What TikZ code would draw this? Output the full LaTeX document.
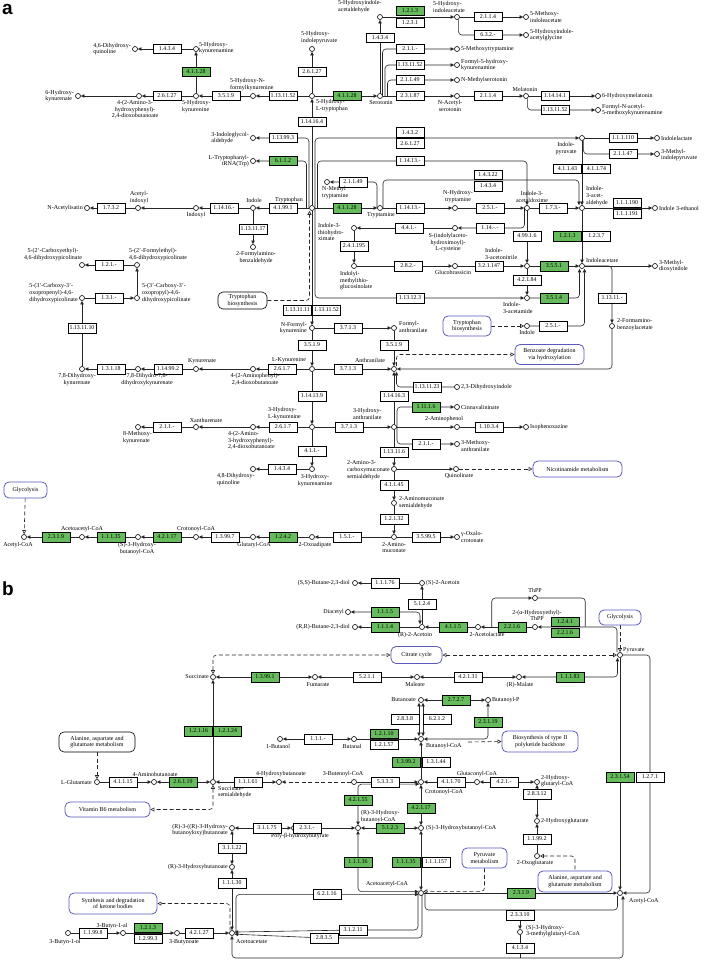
\documentclass[tikz,border=0pt]{standalone}
\usepackage{fontspec}
\setmainfont{Liberation Serif}
\setsansfont{Liberation Sans}
\usetikzlibrary{arrows.meta,backgrounds}
\definecolor{keggreen}{RGB}{102,187,92}
\definecolor{mapblue}{RGB}{90,90,190}

\begin{document}
\begin{tikzpicture}[x=1pt,y=-1pt,
    >={Triangle[length=3.6pt,width=3.4pt]},
    ot/.tip={Triangle[open,fill=white,length=4pt,width=4pt]},
    cpd/.style={circle,draw,fill=white,line width=0.6pt,inner sep=0pt,minimum size=5pt},
    enz/.style={draw,fill=white,line width=0.5pt,inner sep=0pt,minimum width=28pt,minimum height=9.5pt,font=\fontsize{5.9}{6}\selectfont},
    genz/.style={enz,fill=keggreen},
    lbl/.style={inner sep=0pt,align=left,font=\fontsize{6}{6.8}\selectfont},
    mapk/.style={draw,rounded corners=5pt,fill=white,line width=0.6pt,inner sep=0pt,align=center,font=\fontsize{6}{6.8}\selectfont},
    mapb/.style={mapk,draw=mapblue,line width=0.8pt},
    rx/.style={line width=0.6pt,draw=black!85},
    dl/.style={rx,dash pattern=on 4pt off 2.5pt},
    rc/.style={rounded corners=3.5pt},
    letter/.style={inner sep=0pt,anchor=base west,font=\sffamily\bfseries\fontsize{19}{19}\selectfont}]
    \useasboundingbox (0,0) rectangle (708,960);

    % ================= Panel a =================
    \node[letter] (pa) at (2,15) {a};
    % 5-hydroxy branch
    \node[cpd] (dhq46) at (135,49) {};
    \node[cpd] (hkna) at (196,49) {};
    \node[cpd] (hkyn) at (196,96) {};
    \node[cpd] (ahpdb) at (139,96) {};
    \node[cpd] (hkyna6) at (78,96) {};
    \node[cpd] (hnfk) at (253,96) {};
    \node[cpd] (htp) at (312,96) {};
    \node[cpd] (hipyr) at (312,49) {};
    \node[cpd] (ser) at (380,96) {};
    \node[cpd] (hial) at (380,17) {};
    \node[cpd] (hiaa) at (457,17) {};
    \node[cpd] (mia) at (526,17) {};
    \node[cpd] (hiag) at (526,35) {};
    \node[cpd] (mtr) at (457,49) {};
    \node[cpd] (fhk) at (457,65) {};
    \node[cpd] (nms) at (457,80) {};
    \node[cpd] (nas) at (457,96) {};
    \node[cpd] (mel) at (526,96) {};
    \node[cpd] (hmel) at (598,96) {};
    \node[cpd] (fam) at (598,110) {};
    \node[enz] (e1) at (167,49) {1.4.3.4};
    \node[genz] (e2) at (196,72) {4.1.1.28};
    \node[enz] (e3) at (167,96) {2.6.1.27};
    \node[enz] (e4) at (226,96) {3.5.1.9};
    \node[enz] (e5) at (283,96) {1.13.11.52};
    \node[enz] (e6) at (312,72) {2.6.1.27};
    \node[genz] (e7) at (347,96) {4.1.1.28};
    \node[enz] (e8) at (312,122) {1.14.16.4};
    \node[enz] (e9) at (380,38) {1.4.3.4};
    \node[genz] (e10) at (410,11) {1.2.1.3};
    \node[enz] (e11) at (410,23) {1.2.3.1};
    \node[enz] (e12) at (488,17) {2.1.1.4};
    \node[enz] (e13) at (488,35) {6.3.2.-};
    \node[enz] (e14) at (410,49) {2.1.1.-};
    \node[enz] (e15) at (410,65) {1.13.11.52};
    \node[enz] (e16) at (410,80) {2.1.1.49};
    \node[enz] (e17) at (410,96) {2.3.1.87};
    \node[enz] (e18) at (488,96) {2.1.1.4};
    \node[enz] (e19) at (555,96) {1.14.14.1};
    \node[enz] (e20) at (555,110) {1.13.11.52};
    \node[lbl,anchor=east] (Ldhq46) at (131,49) {4,6-Dihydroxy-\\quinoline};
    \node[lbl,anchor=west] (Lhkna) at (199,48) {5-Hydroxy-\\kynurenamine};
    \node[lbl,anchor=north west] (Lhkyn) at (182,100) {5-Hydroxy-\\kynurenine};
    \node[lbl,anchor=north,align=center] (Lahpdb) at (135,100) {4-(2-Amino-3-\\hydroxyphenyl)-\\2,4-dioxobutanoate};
    \node[lbl,anchor=east] (Lhkyna6) at (74,96) {6-Hydroxy-\\kynurenate};
    \node[lbl,anchor=south west] (Lhipyr) at (301,44) {5-Hydroxy-\\indolepyruvate};
    \node[lbl,anchor=south west] (Lhnfk) at (230,91) {5-Hydroxy-N-\\formylkynurenine};
    \node[lbl,anchor=north west] (Lhtp) at (316,99) {5-Hydroxy-\\L-tryptophan};
    \node[lbl,anchor=north] (Lser) at (381,100) {Serotonin};
    \node[lbl,anchor=south west] (Lhial) at (338,13) {5-Hydroxyindole-\\acetaldehyde};
    \node[lbl,anchor=south west] (Lhiaa) at (433,13) {5-Hydroxy-\\indoleacetate};
    \node[lbl,anchor=west] (Lmia) at (530,17) {5-Methoxy-\\indoleacetate};
    \node[lbl,anchor=west] (Lhiag) at (530,35) {5-Hydroxyindole-\\acetylglycine};
    \node[lbl,anchor=west] (Lmtr) at (461,49) {5-Methoxytryptamine};
    \node[lbl,anchor=west] (Lfhk) at (461,65) {Formyl-5-hydroxy-\\kynurenamine};
    \node[lbl,anchor=west] (Lnms) at (461,80) {N-Methylserotonin};
    \node[lbl,anchor=north,align=center] (Lnas) at (450,100) {N-Acetyl-\\serotonin};
    \node[lbl,anchor=south] (Lmel) at (525,92) {Melatonin};
    \node[lbl,anchor=west] (Lhmel) at (602,96) {6-Hydroxymelatonin};
    \node[lbl,anchor=west] (Lfam) at (602,110) {Formyl-N-acetyl-\\5-methoxykynurenamine};

    % tryptophan hub and indole branch
    \node[cpd] (igal) at (253,138) {};
    \node[cpd] (ttrna) at (253,161) {};
    \node[cpd] (ipyr) at (582,138) {};
    \node[cpd] (ilac) at (657,138) {};
    \node[cpd] (mipyr) at (657,154) {};
    \node[cpd] (nmt) at (327,182) {};
    \node[cpd] (trp) at (312,208) {};
    \node[cpd] (ind) at (253,208) {};
    \node[cpd] (indx) at (196,208) {};
    \node[cpd] (aind) at (138,208) {};
    \node[cpd] (nai) at (87,208) {};
    \node[cpd] (fab) at (253,247) {};
    \node[cpd] (tra) at (380,208) {};
    \node[cpd] (nht) at (455,208) {};
    \node[cpd] (iaox) at (527,208) {};
    \node[cpd] (iaal) at (582,208) {};
    \node[cpd] (ieth) at (655,208) {};
    \node[cpd] (sic) at (455,228) {};
    \node[cpd] (ith) at (354,228) {};
    \node[cpd] (img) at (354,266) {};
    \node[cpd] (gbr) at (455,266) {};
    \node[cpd] (ian) at (527,266) {};
    \node[cpd] (iac) at (582,266) {};
    \node[cpd] (mdi) at (655,266) {};
    \node[cpd] (iam) at (527,298) {};
    \node[cpd] (indb) at (527,326) {};
    \node[cpd] (fba) at (612,326) {};
    \node[enz] (e21) at (283,138) {1.13.99.3};
    \node[genz] (e22) at (283,161) {6.1.1.2};
    \node[enz] (e23) at (410,132.5) {1.4.3.2};
    \node[enz] (e24) at (410,143.5) {2.6.1.27};
    \node[enz] (e25) at (410,161) {1.14.13.-};
    \node[enz] (e26) at (623,138) {1.1.1.110};
    \node[enz] (e27) at (623,154) {2.1.1.47};
    \node[enz] (e28) at (567.5,169) {4.1.1.43};
    \node[enz] (e29) at (596.5,169) {4.1.1.74};
    \node[enz] (e30) at (488,175) {1.4.3.22};
    \node[enz] (e31) at (488,186) {1.4.3.4};
    \node[enz] (e32) at (353,182) {2.1.1.49};
    \node[enz] (e33) at (283,208) {4.1.99.1};
    \node[genz] (e34) at (347,208) {4.1.1.28};
    \node[enz] (e35) at (410,208) {1.14.13.-};
    \node[enz] (e36) at (490,208) {2.5.1.-};
    \node[enz] (e37) at (553,208) {1.7.3.-};
    \node[enz] (e38) at (627,202.5) {1.1.1.190};
    \node[enz] (e39) at (627,213.5) {1.1.1.191};
    \node[enz] (e40) at (224,208) {1.14.16.-};
    \node[enz] (e41) at (111,208) {1.7.3.2};
    \node[enz] (e42) at (253,229) {1.13.11.17};
    \node[enz] (e43) at (409,228) {4.4.1.-};
    \node[enz] (e44) at (490,228) {1.14.-.-};
    \node[enz] (e45) at (354,246) {2.4.1.195};
    \node[enz] (e46) at (527,236) {4.99.1.6};
    \node[genz] (e47) at (567.5,236) {1.2.1.3};
    \node[enz] (e48) at (596.5,236) {1.2.3.7};
    \node[enz] (e49) at (408,266) {2.8.2.-};
    \node[enz] (e50) at (489,266) {3.2.1.147};
    \node[genz] (e51) at (554,266) {3.5.5.1};
    \node[enz] (e52) at (527,280) {4.2.1.84};
    \node[genz] (e53) at (554,298) {3.5.1.4};
    \node[enz] (e54) at (410,298) {1.13.12.3};
    \node[enz] (e55) at (612,298) {1.13.11.-};
    \node[enz] (e56) at (553,326) {2.5.1.-};
    \node[lbl,anchor=east] (Ligal) at (249,138) {3-Indoleglycol-\\aldehyde};
    \node[lbl,anchor=east,align=right] (Lttrna) at (249,161) {L-Tryptophanyl-\\tRNA(Trp)};
    \node[lbl,anchor=north,align=center] (Lipyr) at (566,142) {Indole-\\pyruvate};
    \node[lbl,anchor=west] (Lilac) at (661,138) {Indolelactate};
    \node[lbl,anchor=west] (Lmipyr) at (661,155) {3-Methyl-\\indolepyruvate};
    \node[lbl,anchor=north west] (Lnmt) at (322,186) {N-Methyl\\tryptamine};
    \node[lbl,anchor=south] (Ltrp) at (289,203) {Tryptophan};
    \node[lbl,anchor=south] (Lind) at (254,203) {Indole};
    \node[lbl,anchor=north] (Lindx) at (196,212) {Indoxyl};
    \node[lbl,anchor=south,align=center] (Laind) at (139,204) {Acetyl-\\indoxyl};
    \node[lbl,anchor=east] (Lnai) at (83,208) {N-Acetylisatin};
    \node[lbl,anchor=north,align=center] (Lfab) at (256,251) {2-Formylamino-\\benzaldehyde};
    \node[lbl,anchor=north] (Ltra) at (381,212) {Tryptamine};
    \node[lbl,anchor=south,align=center] (Lnht) at (458,203) {N-Hydroxy-\\tryptamine};
    \node[lbl,anchor=south,align=center] (Liaox) at (532,203) {Indole-3-\\acetaldoxime};
    \node[lbl,anchor=south west] (Liaal) at (586,206) {Indole-\\3-acet-\\aldehyde};
    \node[lbl,anchor=west] (Lieth) at (659,208) {Indole 3-ethanol};
    \node[lbl,anchor=north,align=center] (Lsic) at (448,233) {S-(indolylaceto-\\hydroximoyl)-\\L-cysteine};
    \node[lbl,anchor=north west] (Lith) at (318,223) {Indole-3-\\thiohydro-\\ximate};
    \node[lbl,anchor=north west] (Limg) at (340,271) {Indolyl-\\methylthio-\\glucosinolate};
    \node[lbl,anchor=north] (Lgbr) at (453,270) {Glucobrassicin};
    \node[lbl,anchor=south west] (Lian) at (485,260) {Indole-\\3-acetonitrile};
    \node[lbl,anchor=south west] (Liac) at (586,263) {Indoleacetate};
    \node[lbl,anchor=west] (Lmdi) at (659,266) {3-Methyl-\\dioxyindole};
    \node[lbl,anchor=north west] (Liam) at (503,302) {Indole-\\3-acetamide};
    \node[lbl,anchor=north] (Lindb) at (527,330) {Indole};
    \node[lbl,anchor=west] (Lfba) at (617,325) {2-Formamino-\\benzoylacetate};
    \node[mapk,minimum width=49pt,minimum height=17pt] (mtrp1) at (242.5,300.5) {Tryptophan\\biosynthesis};
    \node[mapb,minimum width=48pt,minimum height=20pt] (mtrp2) at (467,326) {Tryptophan\\biosynthesis};
    \node[mapb,minimum width=69pt,minimum height=20pt] (mbenz) at (549.5,354.5) {Benzoate degradation\\via hydroxylation};

    % kynurenine branch
    \node[cpd] (cep) at (82,265) {};
    \node[cpd] (fep) at (137,265) {};
    \node[cpd] (cpp) at (82,298) {};
    \node[cpd] (cop) at (137,298) {};
    \node[cpd] (nfk) at (312,328) {};
    \node[cpd] (fan) at (394,328) {};
    \node[cpd] (lkyn) at (312,369) {};
    \node[cpd] (ant) at (394,369) {};
    \node[cpd] (apdb) at (253,369) {};
    \node[cpd] (kyna) at (196,369) {};
    \node[cpd] (ddk) at (138,369) {};
    \node[cpd] (dhk78) at (82,369) {};
    \node[cpd] (hlkyn) at (312,427) {};
    \node[cpd] (ahpdb2) at (253,427) {};
    \node[cpd] (xan) at (196,427) {};
    \node[cpd] (mky) at (138,427) {};
    \node[cpd] (hkna3) at (312,469) {};
    \node[cpd] (dhq48) at (253,469) {};
    \node[cpd] (haa) at (394,427) {};
    \node[cpd] (dhi) at (457,387) {};
    \node[cpd] (cin) at (457,407) {};
    \node[cpd] (amp) at (457,427) {};
    \node[cpd] (ipx) at (526,427) {};
    \node[cpd] (man) at (457,444) {};
    \node[cpd] (acms) at (394,469) {};
    \node[cpd] (quin) at (456,469) {};
    \node[cpd] (ams) at (394,503) {};
    \node[cpd] (amu) at (394,537) {};
    \node[cpd] (oxc) at (457,537) {};
    \node[cpd] (oad) at (312,537) {};
    \node[cpd] (gcoa) at (253,537) {};
    \node[cpd] (ccoa) at (196,537) {};
    \node[cpd] (hbcoa) at (138,537) {};
    \node[cpd] (aacoa) at (82,537) {};
    \node[cpd] (acoa) at (24,537) {};
    \node[enz] (e57) at (109,265) {1.2.1.-};
    \node[enz] (e58) at (109,298) {1.3.1.-};
    \node[enz] (e59) at (82,328) {1.13.11.10};
    \node[enz] (e60) at (111,369) {1.3.1.18};
    \node[enz] (e61) at (168,369) {1.14.99.2};
    \node[enz] (e62) at (297.5,310) {1.13.11.11};
    \node[enz] (e63) at (326.5,310) {1.13.11.52};
    \node[enz] (e64) at (348,328) {3.7.1.3};
    \node[enz] (e65) at (312,345) {3.5.1.9};
    \node[enz] (e66) at (394,345) {3.5.1.9};
    \node[enz] (e67) at (282,369) {2.6.1.7};
    \node[enz] (e68) at (348,369) {3.7.1.3};
    \node[enz] (e69) at (312,396) {1.14.13.9};
    \node[enz] (e70) at (394,396) {1.14.16.3};
    \node[enz] (e71) at (427,387) {1.13.11.23};
    \node[genz] (e72) at (426,407) {1.11.1.6};
    \node[enz] (e73) at (283,427) {2.6.1.7};
    \node[enz] (e74) at (349,427) {3.7.1.3};
    \node[enz] (e75) at (489,427) {1.10.3.4};
    \node[enz] (e76) at (426,444) {2.1.1.-};
    \node[enz] (e77) at (167,427) {2.1.1.-};
    \node[enz] (e78) at (312,451) {4.1.1.-};
    \node[enz] (e79) at (394,452) {1.13.11.6};
    \node[enz] (e80) at (282,469) {1.4.3.4};
    \node[enz] (e81) at (394,485) {4.1.1.45};
    \node[enz] (e82) at (394,519) {1.2.1.32};
    \node[enz] (e83) at (426,537) {3.5.99.5};
    \node[enz] (e84) at (347,537) {1.5.1.-};
    \node[genz] (e85) at (283,537) {1.2.4.2};
    \node[enz] (e86) at (225,537) {1.3.99.7};
    \node[genz] (e87) at (167,537) {4.2.1.17};
    \node[genz] (e88) at (111,537) {1.1.1.35};
    \node[genz] (e89) at (56,537) {2.3.1.9};
    \node[lbl,anchor=south,align=center] (Lcep) at (53,261) {5-(2'-Carboxyethyl)-\\4,6-dihydroxypicolinate};
    \node[lbl,anchor=south west] (Lfep) at (129,261) {5-(2'-Formylethyl)-\\4,6-dihydroxypicolinate};
    \node[lbl,anchor=east] (Lcpp) at (78,293) {5-(3'-Carboxy-3'-\\oxopropenyl)-4,6-\\dihydroxypicolinate};
    \node[lbl,anchor=west] (Lcop) at (142,293) {5-(3'-Carboxy-3'-\\oxopropyl)-4,6-\\dihydroxypicolinate};
    \node[lbl,anchor=north,align=center] (Ldhk78) at (77,373) {7,8-Dihydroxy-\\kynurenate};
    \node[lbl,anchor=north,align=center] (Lddk) at (147,373) {7,8-Dihydro-7,8-\\dihydroxykynurenate};
    \node[lbl,anchor=south] (Lkyna) at (202,364) {Kynurenate};
    \node[lbl,anchor=north,align=center] (Lapdb) at (255,373) {4-(2-Aminophenyl)-\\2,4-dioxobutanoate};
    \node[lbl,anchor=south] (Llkyn) at (289,363) {L-Kynurenine};
    \node[lbl,anchor=east,align=right] (Lnfk) at (307,328) {N-Formyl-\\kynurenine};
    \node[lbl,anchor=west] (Lfan) at (399,327) {Formyl-\\anthranilate};
    \node[lbl,anchor=south] (Lant) at (370,363) {Anthranilate};
    \node[lbl,anchor=south west] (Lhlkyn) at (268,420) {3-Hydroxy-\\L-kynurenine};
    \node[lbl,anchor=north west] (Lahpdb2) at (228,431) {4-(2-Amino-\\3-hydroxyphenyl)-\\2,4-dioxobutanoate};
    \node[lbl,anchor=south] (Lxan) at (206,423) {Xanthurenate};
    \node[lbl,anchor=north west] (Lmky) at (123,431) {8-Methoxy-\\kynurenate};
    \node[lbl,anchor=north,align=center] (Lhkna3) at (315,474) {3-Hydroxy-\\kynurenamine};
    \node[lbl,anchor=north west] (Ldhq48) at (217,473) {4,8-Dihydroxy-\\quinoline};
    \node[lbl,anchor=south west] (Lhaa) at (353,420) {3-Hydroxy-\\anthranilate};
    \node[lbl,anchor=west] (Ldhi) at (461,387) {2,3-Dihydroxyindole};
    \node[lbl,anchor=west] (Lcin) at (461,407) {Cinnavalininate};
    \node[lbl,anchor=south] (Lamp) at (444,422) {2-Aminophenol};
    \node[lbl,anchor=west] (Lipx) at (530,427) {Isophenoxazine};
    \node[lbl,anchor=west] (Lman) at (461,446) {3-Methoxy-\\anthranilate};
    \node[lbl,anchor=east] (Lacms) at (390,470) {2-Amino-3-\\carboxymuconate\\semialdehyde};
    \node[lbl,anchor=north] (Lquin) at (459,473) {Quinolinate};
    \node[lbl,anchor=west] (Lams) at (399,503) {2-Aminomuconate\\semialdehyde};
    \node[lbl,anchor=north,align=center] (Lamu) at (394,542) {2-Amino-\\muconate};
    \node[lbl,anchor=west] (Loxc) at (461,537) {γ-Oxalo-\\crotonate};
    \node[lbl,anchor=north] (Load) at (315,542) {2-Oxoadipate};
    \node[lbl,anchor=north] (Lgcoa) at (254,542) {Glutaryl-CoA};
    \node[lbl,anchor=south] (Lccoa) at (196,532) {Crotonoyl-CoA};
    \node[lbl,anchor=north,align=center] (Lhbcoa) at (137,542) {(S)-3-Hydroxy-\\butanoyl-CoA};
    \node[lbl,anchor=south] (Laacoa) at (82,532) {Acetoacetyl-CoA};
    \node[lbl,anchor=north] (Lacoa) at (18,542) {Acetyl-CoA};
    \node[mapb,minimum width=43pt,minimum height=16pt] (mglya) at (25.5,490) {Glycolysis};
    \node[mapb,minimum width=89pt,minimum height=16pt] (mnic) at (577.5,469) {Nicotinamide metabolism};

    % ================= Panel b =================
    \node[letter] (pb) at (2,595) {b};
    \node[cpd] (ssbd) at (355,583) {};
    \node[cpd] (sac) at (422,583) {};
    \node[cpd] (dac) at (348,612) {};
    \node[cpd] (rrbd) at (355,627) {};
    \node[cpd] (rac) at (422,627) {};
    \node[cpd] (alac) at (478,627) {};
    \node[cpd] (hetpp) at (535,627) {};
    \node[cpd] (thpp) at (535,598) {};
    \node[cpd] (pyr) at (620,655) {};
    \node[cpd] (suc) at (213,677) {};
    \node[cpd] (fum) at (315,677) {};
    \node[cpd] (mal) at (417,677) {};
    \node[cpd] (rmal) at (519,677) {};
    \node[cpd] (but) at (421,700) {};
    \node[cpd] (butp) at (488,700) {};
    \node[cpd] (bcoa) at (421,739) {};
    \node[cpd] (bal) at (354,739) {};
    \node[cpd] (bol) at (280,739) {};
    \node[cpd] (glu) at (97,782) {};
    \node[cpd] (gaba) at (154,782) {};
    \node[cpd] (ssa) at (213,782) {};
    \node[cpd] (ghb) at (279,782) {};
    \node[cpd] (bucoa) at (354,782) {};
    \node[cpd] (ccoab) at (421,782) {};
    \node[cpd] (gccoa) at (477,782) {};
    \node[cpd] (hgcoa) at (537,782) {};
    \node[cpd] (hglt) at (537,821) {};
    \node[cpd] (oglt) at (537,856) {};
    \node[cpd] (rrhb) at (232,828) {};
    \node[cpd] (phb) at (294,828) {};
    \node[cpd] (rhbcoa) at (358,828) {};
    \node[cpd] (shbcoa) at (421,828) {};
    \node[cpd] (rhb) at (232,867) {};
    \node[cpd] (aacoab) at (421,893) {};
    \node[cpd] (acoab) at (620,893) {};
    \node[cpd] (hmgcoa) at (520,932) {};
    \node[cpd] (aca) at (232,933) {};
    \node[cpd] (byol) at (68,933) {};
    \node[cpd] (byal) at (123,933) {};
    \node[cpd] (byn) at (177,933) {};
    \coordinate (j958) at (520,958);
    \coordinate (bcoaout) at (468,742);
    \node[enz] (f1) at (385,583) {1.1.1.76};
    \node[enz] (f2) at (422,604) {5.1.2.4};
    \node[genz] (f3) at (385,612) {1.1.1.5};
    \node[genz] (f4) at (385,627) {1.1.1.4};
    \node[genz] (f5) at (453,627) {4.1.1.5};
    \node[genz] (f6) at (512,627) {2.2.1.6};
    \node[genz] (f7) at (565,621.5) {1.2.4.1};
    \node[genz] (f8) at (565,632.5) {2.2.1.6};
    \node[genz] (f9) at (265,677) {1.3.99.1};
    \node[enz] (f10) at (367,677) {5.2.1.1};
    \node[enz] (f11) at (468,677) {4.2.1.31};
    \node[genz] (f12) at (570,677) {1.1.1.83};
    \node[genz] (f13) at (456,700) {2.7.2.7};
    \node[genz] (f14) at (488,722) {2.3.1.19};
    \node[enz] (f15) at (405,719) {2.8.3.8};
    \node[enz] (f16) at (437,719) {6.2.1.2};
    \node[genz] (f17) at (384,733.5) {1.2.1.10};
    \node[enz] (f18) at (384,744.5) {1.2.1.57};
    \node[enz] (f19) at (318,739) {1.1.1.-};
    \node[genz] (f20) at (198.5,731) {1.2.1.16};
    \node[genz] (f21) at (227.5,731) {1.2.1.24};
    \node[genz] (f22) at (406,762) {1.3.99.2};
    \node[enz] (f23) at (436,762) {1.3.1.44};
    \node[enz] (f24) at (123,782) {4.1.1.15};
    \node[genz] (f25) at (183,782) {2.6.1.19};
    \node[enz] (f26) at (248,782) {1.1.1.61};
    \node[enz] (f27) at (385,782) {5.3.3.3};
    \node[enz] (f28) at (451,782) {4.1.1.70};
    \node[enz] (f29) at (504,782) {4.2.1.-};
    \node[enz] (f30) at (537,794) {2.8.3.12};
    \node[enz] (f31) at (537,839) {1.1.99.2};
    \node[genz] (f32) at (620,777) {2.3.1.54};
    \node[enz] (f33) at (650,777) {1.2.7.1};
    \node[genz] (f34) at (358,800) {4.2.1.55};
    \node[genz] (f35) at (421,808) {4.2.1.17};
    \node[enz] (f36) at (267,828) {3.1.1.75};
    \node[enz] (f37) at (307,828) {2.3.1.-};
    \node[genz] (f38) at (390,828) {5.1.2.3};
    \node[enz] (f39) at (232,848) {3.1.1.22};
    \node[enz] (f40) at (232,883) {1.1.1.30};
    \node[genz] (f41) at (358,862) {1.1.1.36};
    \node[genz] (f42) at (406,862) {1.1.1.35};
    \node[enz] (f43) at (436,862) {1.1.1.157};
    \node[enz] (f44) at (327,894) {6.2.1.16};
    \node[enz] (f45) at (353,930) {3.1.2.11};
    \node[enz] (f46) at (324,938) {2.8.3.5};
    \node[genz] (f47) at (521,893) {2.3.1.9};
    \node[enz] (f48) at (520,915) {2.3.3.10};
    \node[enz] (f49) at (520,948) {4.1.3.4};
    \node[enz] (f50) at (93,933) {1.1.99.8};
    \node[genz] (f51) at (148,927.5) {1.2.1.3};
    \node[enz] (f52) at (148,938.5) {1.2.99.3};
    \node[enz] (f53) at (199,933) {4.2.1.27};
    \node[lbl,anchor=east] (Lssbd) at (350,583) {(S,S)-Butane-2,3-diol};
    \node[lbl,anchor=west] (Lsac) at (426,583) {(S)-2-Acetoin};
    \node[lbl,anchor=east] (Ldac) at (344,612) {Diacetyl};
    \node[lbl,anchor=east] (Lrrbd) at (350,627) {(R,R)-Butane-2,3-diol};
    \node[lbl,anchor=north] (Lrac) at (415,632) {(R)-2-Acetoin};
    \node[lbl,anchor=north] (Lalac) at (487,632) {2-Acetolactate};
    \node[lbl,anchor=south,align=center] (Lhetpp) at (537,621) {2-(α-Hydroxyethyl)-\\ThPP};
    \node[lbl,anchor=south] (Lthpp) at (535,593) {ThPP};
    \node[lbl,anchor=west] (Lpyr) at (623,650) {Pyruvate};
    \node[lbl,anchor=east] (Lsuc) at (209,677) {Succinate};
    \node[lbl,anchor=north] (Lfum) at (318,682) {Fumarate};
    \node[lbl,anchor=north] (Lmal) at (415,682) {Maleate};
    \node[lbl,anchor=north] (Lrmal) at (520,682) {(R)-Malate};
    \node[lbl,anchor=east] (Lbut) at (416,700) {Butanoate};
    \node[lbl,anchor=west] (Lbutp) at (492,700) {Butanoyl-P};
    \node[lbl,anchor=north west] (Lbcoa) at (426,743) {Butanoyl-CoA};
    \node[lbl,anchor=north] (Lbal) at (352,744) {Butanal};
    \node[lbl,anchor=north] (Lbol) at (278,744) {1-Butanol};
    \node[lbl,anchor=east] (Lglu) at (92,782) {L-Glutamate};
    \node[lbl,anchor=south] (Lgaba) at (155,777) {4-Aminobutanoate};
    \node[lbl,anchor=north west] (Lssa) at (218,786) {Succinate-\\semialdehyde};
    \node[lbl,anchor=south] (Lghb) at (281,777) {4-Hydroxybutanoate};
    \node[lbl,anchor=south] (Lbucoa) at (343,777) {3-Butenoyl-CoA};
    \node[lbl,anchor=north west] (Lccoab) at (425,789) {Crotonoyl-CoA};
    \node[lbl,anchor=south] (Lgccoa) at (477,777) {Glutaconyl-CoA};
    \node[lbl,anchor=west] (Lhgcoa) at (541,781) {2-Hydroxy-\\glutaryl-CoA};
    \node[lbl,anchor=west] (Lhglt) at (541,821) {2-Hydroxyglutarate};
    \node[lbl,anchor=north] (Loglt) at (535,860) {2-Oxoglutarate};
    \node[lbl,anchor=east,align=center] (Lrrhb) at (228,830) {(R)-3-((R)-3-Hydroxy-\\butanoyloxy)butanoate};
    \node[lbl,anchor=north] (Lphb) at (300,833) {Poly-β-hydroxybutyrate};
    \node[lbl,anchor=south west] (Lrhbcoa) at (361,823) {(R)-3-Hydroxy-\\butanoyl-CoA};
    \node[lbl,anchor=west] (Lshbcoa) at (426,828) {(S)-3-Hydroxybutanoyl-CoA};
    \node[lbl,anchor=east] (Lrhb) at (228,867) {(R)-3-Hydroxybutanoate};
    \node[lbl,anchor=south] (Laacoab) at (387,887) {Acetoacetyl-CoA};
    \node[lbl,anchor=west] (Lacoab) at (629,901) {Acetyl-CoA};
    \node[lbl,anchor=west] (Lhmgcoa) at (526,931) {(S)-3-Hydroxy-\\3-methylglutaryl-CoA};
    \node[lbl,anchor=north west] (Laca) at (236,939) {Acetoacetate};
    \node[lbl,anchor=north] (Lbyol) at (65,939) {3-Butyn-1-ol};
    \node[lbl,anchor=south] (Lbyal) at (112,929) {3-Butyn-1-al};
    \node[lbl,anchor=north] (Lbyn) at (184,939) {3-Butynoate};
    \node[mapk,minimum width=76pt,minimum height=20pt] (mala1) at (97,742) {Alanine, aspartate and\\glutamate metabolism};
    \node[mapb,minimum width=85pt,minimum height=15pt] (mvb6) at (107.5,809.5) {Vitamin B6 metabolism};
    \node[mapb,minimum width=88pt,minimum height=21pt] (mket) at (113,903.5) {Synthesis and degradation\\of ketone bodies};
    \node[mapb,minimum width=51pt,minimum height=17pt] (mcit) at (416.5,655) {Citrate cycle};
    \node[mapb,minimum width=42pt,minimum height=15pt] (mglyb) at (620,617.5) {Glycolysis};
    \node[mapb,minimum width=76pt,minimum height=21pt] (mpks) at (540,741.5) {Biosynthesis of type II\\polyketide backbone};
    \node[mapb,minimum width=45pt,minimum height=20pt] (mpyr) at (484.5,858) {Pyruvate\\metabolism};
    \node[mapb,minimum width=74pt,minimum height=21pt] (mala2) at (575,881.5) {Alanine, aspartate and\\glutamate metabolism};

    % ================= Connectors =================
    \begin{scope}[on background layer]
        \fill[white] (0,0) rectangle (708,960);
        % panel a, 5-hydroxy branch
        \draw[rx,->] (hkna) -- (dhq46);
        \draw[rx,->] (hkyn) -- (hkna);
        \draw[rx,->] (hkyn) -- (ahpdb);
        \draw[rx,->] (ahpdb) -- (hkyna6);
        \draw[rx,->] (hnfk) -- (hkyn);
        \draw[rx,->] (htp) -- (hnfk);
        \draw[rx,->] (htp) -- (hipyr);
        \draw[rx,->] (htp) -- (ser);
        \draw[rx,->] (trp) -- (htp);
        \draw[rx,->] (ser) -- (hial);
        \draw[rx,->] (hial) -- (hiaa);
        \draw[rx,->] (hiaa) -- (mia);
        \draw[rx,->,rc] (hiaa.-60) |- (hiag);
        \draw[rx,->,rc] ([xshift=2.5pt]ser.center) |- (mtr);
        \draw[rx,->,rc] ([xshift=5pt]ser.center) |- (fhk);
        \draw[rx,->,rc] ([xshift=7.5pt]ser.center) |- (nms);
        \draw[rx,->] (ser) -- (nas);
        \draw[rx,->] (nas) -- (mel);
        \draw[rx,->] (mel) -- (hmel);
        \draw[rx,->,rc] (mel.-60) |- (fam);
        % panel a, tryptophan hub
        \draw[rx,->,rc] ([xshift=-3pt]trp.center) |- (igal);
        \draw[rx,->,rc] ([xshift=-5.5pt]trp.center) |- (ttrna);
        \draw[rx,->,rc] ([xshift=3pt]trp.center) |- (ipyr);
        \draw[rx,->,rc] ([xshift=5.5pt]trp.center) |- (e25.center) -| (iaox);
        \draw[rx,->,rc] ([xshift=3pt]trp.center) |- (iam);
        \draw[dl,-ot,rc] (mtrp1.east) -| ([xshift=-2.5pt]trp.south);
        \draw[rx,->] (trp) -- (nfk);
        \draw[rx,->] (trp) -- (ind);
        \draw[rx,->] (trp) -- (tra);
        \draw[rx,->] (ind) -- (fab);
        \draw[rx,->] (ind) -- (indx);
        \draw[rx,->] (indx) -- (aind);
        \draw[rx,->] (aind) -- (nai);
        \draw[rx,->] (tra) -- (nht);
        \draw[rx,->,rc] ([xshift=-3pt]tra.center) |- (nmt);
        \draw[rx,->,rc] ([xshift=3pt]tra.center) |- (e30.south) -| ([xshift=-3pt]iaal.north);
        \draw[rx,->] (ipyr) -- (iaal);
        \draw[rx,->] (ipyr) -- (ilac);
        \draw[rx,->,rc] (ipyr.-60) |- (mipyr);
        \draw[rx,->] (nht) -- (iaox);
        \draw[rx,->] (iaox) -- (iaal);
        \draw[rx,->] (iaal) -- (ieth);
        \draw[rx,->,rc] ([xshift=-2.5pt]iaox.center) |- (sic);
        \draw[rx,->] (sic) -- (ith);
        \draw[rx,->] (ith) -- (img);
        \draw[rx,->] (img) -- (gbr);
        \draw[rx,->] (gbr) -- (ian);
        \draw[rx,->] (iaox) -- (ian);
        \draw[rx,->] (ian) -- (iac);
        \draw[rx,->] (ian) -- (iam);
        \draw[rx,->,rc] (iam) -| ([xshift=-2.5pt]iac.south);
        \draw[rx,->,rc] (indb) -| ([xshift=2.5pt]iac.south);
        \draw[rx,->] (iaal) -- (iac);
        \draw[rx,->] (iac) -- (mdi);
        \draw[rx,->,rc] (iac) -| (fba);
        \draw[rx,->,rc] (fba) |- (ant);
        \draw[dl,-ot] (mtrp2) -- (indb);
        % panel a, kynurenine branch
        \draw[rx,->] (fep) -- (cep);
        \draw[rx,->] (cop) -- (fep);
        \draw[rx,->] (cpp) -- (cop);
        \draw[rx,->] (dhk78) -- (cpp);
        \draw[rx,->] (ddk) -- (dhk78);
        \draw[rx,->] (kyna) -- (ddk);
        \draw[rx,->] (apdb) -- (kyna);
        \draw[rx,->] (lkyn) -- (apdb);
        \draw[rx,->] (nfk) -- (lkyn);
        \draw[rx,->] (nfk) -- (fan);
        \draw[rx,->] (fan) -- (ant);
        \draw[rx,->] (lkyn) -- (ant);
        \draw[dl,-ot,rc] ([xshift=2.5pt]ant.north) |- (mbenz.west);
        \draw[rx,->] (lkyn) -- (hlkyn);
        \draw[rx,->] (hlkyn) -- (ahpdb2);
        \draw[rx,->] (ahpdb2) -- (xan);
        \draw[rx,->] (xan) -- (mky);
        \draw[rx,->] (hlkyn) -- (hkna3);
        \draw[rx,->] (hkna3) -- (dhq48);
        \draw[rx,->] (hlkyn) -- (haa);
        \draw[rx,->] (haa) -- (ant);
        \draw[rx,->,rc] (dhi) -| ([xshift=2.5pt]ant.south);
        \draw[rx,->] (haa) -- (amp);
        \draw[rx,->] (amp) -- (ipx);
        \draw[rx,->,rc] ([xshift=3pt]haa.center) |- (cin);
        \draw[rx,->,rc] ([xshift=3pt]haa.center) |- (man);
        \draw[rx,->] (haa) -- (acms);
        \draw[rx,->] (acms) -- (quin);
        \draw[dl,-ot] (quin) -- (mnic);
        \draw[rx,->] (acms) -- (ams);
        \draw[rx,->] (ams) -- (amu);
        \draw[rx,->] (amu) -- (oxc);
        \draw[rx,->] (amu) -- (oad);
        \draw[rx,->] (oad) -- (gcoa);
        \draw[rx,->] (gcoa) -- (ccoa);
        \draw[rx,->] (ccoa) -- (hbcoa);
        \draw[rx,->] (hbcoa) -- (aacoa);
        \draw[rx,->] (aacoa) -- (acoa);
        \draw[dl,-ot] (mglya) -- (acoa);
        % panel b, acetoin and pyruvate
        \draw[rx,->] (sac) -- (ssbd);
        \draw[rx,->] (rac) -- (sac);
        \draw[rx,<->,rc] ([xshift=-2pt]rac.north) |- (dac);
        \draw[rx,->] (rac) -- (rrbd);
        \draw[rx,->] (alac) -- (rac);
        \draw[rx,->] (hetpp) -- (alac);
        \draw[rx,->,rc] ([xshift=-6pt]f6.west) |- (thpp);
        \draw[rx,rc] (thpp) -| ([xshift=6pt]f7.south east);
        \draw[rx,->,rc] ([xshift=-3pt]pyr.north) |- (hetpp);
        \draw[dl,ot-ot,rc] (suc.north) |- (mcit.west);
        \draw[dl,ot-ot] (mcit.east) -- (pyr);
        \draw[dl,-ot] (mglyb.south) -- (pyr.north);
        \draw[rx,<->] (suc) -- (fum);
        \draw[rx,<->] (fum) -- (mal);
        \draw[rx,<->] (mal) -- (rmal);
        \draw[rx,<->,rc] (rmal) -| ([xshift=-2.5pt]pyr.south);
        \draw[rx,->] (pyr) -- (acoab);
        \draw[rx,->,rc] (pyr) -| (f33.center) |- (acoab);
        % panel b, butanoate
        \draw[rx,<->] (but) -- (butp);
        \draw[rx,<->,rc] (butp) |- (bcoa);
        \draw[rx,<->] ([xshift=-2pt]but.south) -- ([xshift=-2pt]bcoa.north);
        \draw[rx,<->] ([xshift=2pt]but.south) -- ([xshift=2pt]bcoa.north);
        \draw[rx,<->] (bol) -- (bal);
        \draw[rx,->] (bal) -- (bcoa);
        \draw[dl,-ot] (bcoaout) -- (mpks.west);
        \draw[rx,->] (ccoab) -- (bcoa);
        \draw[dl,-ot] (mala1.south) -- (glu);
        \draw[rx,->] (glu) -- (gaba);
        \draw[rx,<->] (gaba) -- (ssa);
        \draw[rx,<->] (ssa) -- (ghb);
        \draw[rx,->] (ssa) -- (suc);
        \draw[dl,ot-ot,rc] (ssa.south) |- (mvb6.east);
        \draw[dl,->] (bucoa) -- (ghb);
        \draw[rx,->] (bucoa) -- (ccoab);
        \draw[rx,->] (gccoa) -- (ccoab);
        \draw[rx,<->] (gccoa) -- (hgcoa);
        \draw[rx,<->] (hgcoa) -- (hglt);
        \draw[rx,->] (oglt) -- (hglt);
        \draw[dl,ot-,rc] (oglt) -| (mala2.north);
        \draw[rx,<->,rc] (rhbcoa) |- (ccoab.-130);
        \draw[rx,<->] (rhbcoa) -- (shbcoa);
        \draw[rx,<->] (phb) -- (rhbcoa);
        \draw[rx,<->] (rrhb) -- (phb);
        \draw[rx,<->] (ccoab) -- (shbcoa);
        \draw[rx,<->] (shbcoa) -- (aacoab);
        \draw[rx,<->,rc] (rhbcoa) |- (aacoab.150);
        % panel b, ketone bodies
        \draw[rx,<->] (rrhb) -- (rhb);
        \draw[rx,<->] (rhb) -- (aca);
        \draw[dl,ot-,rc] (mket.east) -| ([xshift=-2pt]aca.north);
        \draw[rx,->,rc] ([xshift=4pt]aca.center) |- (aacoab.-150);
        \draw[rx,->,rc] ([xshift=-3pt]aacoab.center) |- (f45.center) -- (aca.20);
        \draw[rx,->,rc] ([xshift=1pt]aacoab.center) |- (f46.center) -- (aca.-25);
        \draw[rx,->] (aacoab) -- (acoab);
        \draw[dl,-ot,rc] (mpyr.south) |- (aacoab.35);
        \draw[rx,rc] ([xshift=4pt]aacoab.center) |- (f48.north) -| ([xshift=-2.5pt]acoab.south);
        \draw[rx,->] (f48) -- (hmgcoa);
        \draw[rx] (hmgcoa) -- (j958);
        \draw[rx,<->,rc] (aca) |- (j958) -| ([xshift=3pt]acoab.south);
        \draw[rx,->] (byol) -- (byal);
        \draw[rx,->] (byal) -- (byn);
        \draw[rx,->] (byn) -- (aca);
    \end{scope}
\end{tikzpicture}
\end{document}
